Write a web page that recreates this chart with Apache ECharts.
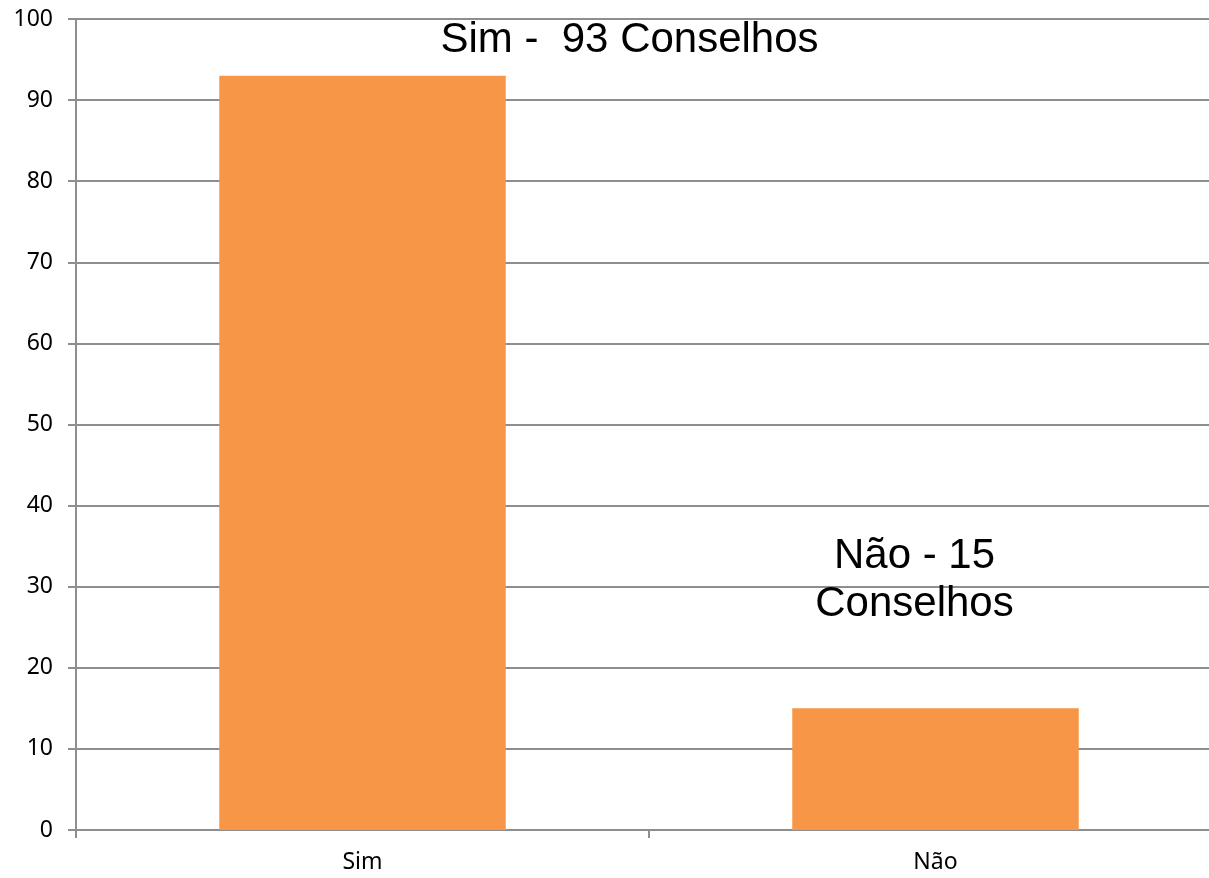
<!DOCTYPE html>
<html>
<head>
<meta charset="utf-8">
<script src="https://cdn.jsdelivr.net/npm/echarts@6/dist/echarts.min.js"></script>
<style>
  html, body { margin: 0; padding: 0; background: #ffffff; overflow: hidden; }
  #chart { width: 1230px; height: 878px; }
</style>
</head>
<body>
<div id="chart"></div>
<script>
// Conselhos: resposta Sim / Não
const categories = ['Sim', 'Não'];
const counts = [93, 15];
const yTicks = { min: 0, max: 100, step: 10 };

const gridColor = '#8e8e8e';
const barColor = '#F79646';

// Per-bar annotation styles (text comes from the data)
const labelStyles = [
  { offset: [267, -11], fmt: (n, v) => n + ' -  ' + v + ' Conselhos' },
  { offset: [-21, -80], fmt: (n, v) => n + ' - ' + v + '\nConselhos' }
];

const chart = echarts.init(document.getElementById('chart'), null, { renderer: 'canvas' });

chart.setOption({
  animation: false,
  backgroundColor: '#ffffff',
  grid: { left: 76, top: 19, right: 8, bottom: 48, containLabel: false },
  xAxis: {
    type: 'category',
    data: categories,
    boundaryGap: true,
    axisLine: { show: true, lineStyle: { color: gridColor, width: 2 } },
    axisTick: { show: true, alignWithLabel: false, length: 8, lineStyle: { color: gridColor, width: 2 } },
    axisLabel: { color: '#000000', fontFamily: 'Noto Sans', fontSize: 23, margin: 21 },
    splitLine: { show: false }
  },
  yAxis: {
    type: 'value',
    min: yTicks.min,
    max: yTicks.max,
    interval: yTicks.step,
    axisLine: { show: true, lineStyle: { color: gridColor, width: 2 } },
    axisTick: { show: true, length: 8, lineStyle: { color: gridColor, width: 2 } },
    axisLabel: { color: '#000000', fontFamily: 'Noto Sans', fontSize: 23, margin: 23 },
    splitLine: { show: true, lineStyle: { color: gridColor, width: 2 } }
  },
  series: [{
    type: 'bar',
    barWidth: '50%',
    itemStyle: { color: barColor },
    data: counts.map((v, i) => ({
      value: v,
      label: {
        show: true,
        position: 'top',
        distance: 0,
        offset: labelStyles[i].offset,
        color: '#000000',
        fontFamily: 'Liberation Sans',
        fontSize: 42,
        lineHeight: 48,
        align: 'center',
        formatter: labelStyles[i].fmt(categories[i], v)
      }
    }))
  }]
});
</script>
</body>
</html>
